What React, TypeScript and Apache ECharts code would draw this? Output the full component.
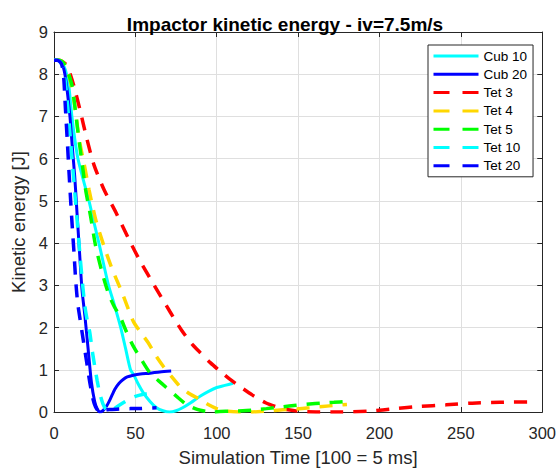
import React, { useEffect, useRef } from "react";
import * as echarts from "echarts";

const seriesNames = ["Cub 10", "Cub 20", "Tet 3", "Tet 4", "Tet 5", "Tet 10", "Tet 20"];
const seriesColors = ["#00ffff", "#0000ff", "#ff0000", "#ffd700", "#00ff00", "#00ffff", "#0000ff"];
const seriesDashed = [false, false, true, true, true, true, true];

const tCub10 = [0, 3, 5, 7, 9, 11, 13, 14.7, 18, 21.5, 24.5, 27.6, 30.5, 33.5, 37, 41, 44, 47, 49, 51.5, 54.8, 59, 63, 67, 71, 75, 79, 84, 90, 95, 100, 105, 110];
const eCub10 = [8.33, 8.33, 8.27, 8.1, 7.75, 7.0, 6.4, 6.0, 5.5, 5.0, 4.5, 4.0, 3.5, 3.0, 2.55, 2.0, 1.5, 1.0, 0.88, 0.68, 0.46, 0.25, 0.1, 0.03, 0, 0.03, 0.1, 0.22, 0.38, 0.49, 0.58, 0.63, 0.68];

const tCub20 = [0, 3, 5, 6.7, 8.3, 9.8, 11.2, 12.7, 14, 15.5, 17.2, 19, 21, 23, 25, 26.5, 28, 30, 32.3, 34.5, 37.4, 40, 42.5, 45, 48.7, 53, 58.9, 65, 72];
const eCub20 = [8.33, 8.33, 8.25, 8.0, 7.55, 7.0, 6.3, 5.6, 4.8, 3.9, 2.9, 2.27, 1.48, 0.7, 0.25, 0.08, 0, 0.03, 0.14, 0.3, 0.54, 0.68, 0.77, 0.83, 0.87, 0.9, 0.92, 0.95, 0.97];

const tTet3 = [0, 3, 6, 8, 10, 12.3, 16, 20, 24.5, 30.7, 38, 46, 53.4, 61.3, 71.2, 78.5, 85, 90, 96, 102, 108, 114, 122, 130, 137, 143, 152, 161, 177, 194, 210, 224, 241, 257, 274, 294];
const eTet3 = [8.33, 8.33, 8.28, 8.2, 8.0, 7.71, 7.15, 6.5, 5.86, 5.27, 4.73, 4.09, 3.54, 3.02, 2.38, 1.93, 1.6, 1.4, 1.17, 0.97, 0.78, 0.61, 0.4, 0.22, 0.12, 0.06, 0.01, 0, 0, 0.02, 0.08, 0.13, 0.17, 0.21, 0.23, 0.24];

const tTet4 = [0, 3, 5, 7, 9, 11, 13.3, 15.3, 18.4, 21.5, 25.6, 30.7, 35.8, 41.9, 48.7, 53, 57.9, 62, 67, 72, 77.3, 83, 89.6, 95, 100, 106, 114, 122, 130, 139, 148, 157, 165, 173.5, 180];
const eTet4 = [8.33, 8.33, 8.3, 8.2, 8.0, 7.65, 7.12, 6.49, 5.9, 5.27, 4.56, 3.93, 3.38, 2.82, 2.15, 1.9, 1.64, 1.37, 1.09, 0.85, 0.61, 0.44, 0.3, 0.17, 0.08, 0.02, 0, 0, 0.02, 0.05, 0.07, 0.1, 0.13, 0.16, 0.18];

const tTet5 = [0, 3, 5, 7, 9, 11.2, 13.3, 15.3, 17.4, 19.4, 22.5, 25.6, 29.6, 33.7, 37, 40.5, 44.5, 48.7, 54, 58.9, 64, 69, 75, 81.4, 88, 94, 97.7, 102, 109, 116, 123, 130.5, 140, 149, 157, 164, 172, 180];
const eTet5 = [8.33, 8.33, 8.3, 8.2, 8.0, 7.71, 7.08, 6.45, 5.86, 5.27, 4.63, 3.93, 3.3, 2.78, 2.5, 2.27, 1.9, 1.56, 1.22, 0.93, 0.75, 0.58, 0.38, 0.18, 0.06, 0.01, 0, 0.01, 0.02, 0.03, 0.05, 0.08, 0.12, 0.16, 0.19, 0.21, 0.23, 0.25];

const tTet10 = [0, 2, 4, 5.5, 7, 8.5, 10, 11.5, 13, 14.5, 16, 17.5, 19, 20.5, 22, 23.5, 25, 26.5, 28, 30, 32, 34, 36, 38.5, 42.5, 46, 50, 55, 62];
const eTet10 = [8.33, 8.33, 8.28, 8.15, 7.8, 7.2, 6.5, 5.8, 5.1, 4.4, 3.7, 3.05, 2.5, 2.15, 1.88, 1.45, 1.09, 0.75, 0.46, 0.2, 0.06, 0.02, 0.05, 0.12, 0.22, 0.3, 0.37, 0.42, 0.47];

const tTet20 = [0, 2, 4, 5, 6, 7, 8.2, 9.2, 10.2, 11.2, 12.3, 13.3, 14.5, 16, 18, 20, 22, 24, 25.5, 27, 28.5, 30, 34, 40, 47, 53, 58, 63];
const eTet20 = [8.33, 8.33, 8.28, 8.2, 7.9, 7.2, 6.4, 5.7, 5.03, 4.4, 3.77, 3.14, 2.6, 2.2, 1.7, 1.2, 0.7, 0.3, 0.12, 0.03, 0, 0.04, 0.06, 0.07, 0.08, 0.08, 0.09, 0.1];

const allT = [tCub10, tCub20, tTet3, tTet4, tTet5, tTet10, tTet20];
const allE = [eCub10, eCub20, eTet3, eTet4, eTet5, eTet10, eTet20];

const xTicks = { min: 0, max: 300, interval: 50 };
const yTicks = { min: 0, max: 9, interval: 1 };

const FONT = "'Liberation Sans', Arial, Helvetica, sans-serif";
const AX = "#262626";
const DASH = [13, 10];
const LEGEND_DASH = [16, 13];

export default function App() {
  const ref = useRef<HTMLDivElement>(null);
  useEffect(() => {
    if (!ref.current) return;
    const chart = echarts.init(ref.current, undefined, { renderer: "svg" });

    const series = seriesNames.map((name, i) => ({
      name,
      type: "line",
      data: allT[i].map((t, k) => [t, allE[i][k]]),
      symbol: "none",
      showSymbol: false,
      smooth: 0.25,
      xAxisIndex: 0,
      yAxisIndex: 0,
      lineStyle: {
        color: seriesColors[i],
        width: seriesDashed[i] ? 3.5 : 3,
        type: seriesDashed[i] ? DASH : "solid",
        cap: "butt",
      },
      itemStyle: { color: seriesColors[i] },
      z: 2 + i,
    }));

    const baseAxis = (pos: string, showLabel: boolean, split: boolean) => ({
      type: "value",
      position: pos,
      axisLine: { show: true, onZero: false, lineStyle: { color: AX, width: 1 } },
      axisTick: { show: true, inside: true, length: 5, lineStyle: { color: AX, width: 1 } },
      splitLine: { show: split, lineStyle: { color: "#dfdfdf", width: 1 } },
      axisLabel: { show: showLabel, color: AX, fontSize: 16.5, fontFamily: FONT },
    });

    chart.setOption({
      animation: false,
      backgroundColor: "#ffffff",
      title: {
        text: "Impactor kinetic energy - iv=7.5m/s",
        left: 280,
        textAlign: "center",
        top: 10,
        textStyle: { fontSize: 19, fontWeight: "bold", color: "#000", fontFamily: FONT },
      },
      grid: { left: 54, right: 16, top: 32, bottom: 59, containLabel: false },
      legend: {
        orient: "vertical",
        left: 428,
        top: 45,
        padding: [4, 6, 4, 4],
        itemWidth: 45,
        itemHeight: 14,
        itemGap: 4.3,
        backgroundColor: "#ffffff",
        borderColor: AX,
        borderWidth: 1,
        borderRadius: 0,
        textStyle: { fontSize: 13.5, color: "#000", fontFamily: FONT },
        data: seriesNames.map((name, i) => ({
          name,
          itemStyle: { opacity: 0 },
          lineStyle: {
            color: seriesColors[i],
            width: 3,
            type: seriesDashed[i] ? LEGEND_DASH : "solid",
            cap: "butt",
            opacity: 1,
          },
        })),
      },
      xAxis: [
        {
          ...baseAxis("bottom", true, true),
          ...xTicks,
          name: "Simulation Time [100 = 5 ms]",
          nameLocation: "middle",
          nameGap: 36,
          nameTextStyle: { fontSize: 18.5, color: AX, fontFamily: FONT },
          axisLabel: { show: true, color: AX, fontSize: 16.5, fontFamily: FONT, margin: 12 },
        },
        { ...baseAxis("top", false, false), ...xTicks },
      ],
      yAxis: [
        {
          ...baseAxis("left", true, true),
          ...yTicks,
          name: "Kinetic energy [J]",
          nameLocation: "middle",
          nameGap: 12,
          nameRotate: 90,
          nameTextStyle: { fontSize: 18.5, color: AX, fontFamily: FONT },
          axisLabel: { show: true, color: AX, fontSize: 16.5, fontFamily: FONT, margin: 6 },
        },
        { ...baseAxis("right", false, false), ...yTicks },
      ],
      series,
    });
    return () => chart.dispose();
  }, []);

  return (
    <div
      ref={ref}
      style={{ position: "fixed", left: 0, top: 0, width: 559, height: 472, background: "#fff" }}
    />
  );
}
